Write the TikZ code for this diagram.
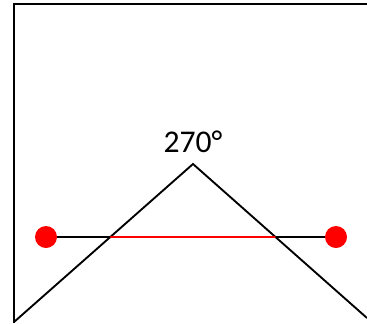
\documentclass[tikz,border=0pt]{standalone}
\usepackage{fontspec}
\setmainfont{Carlito}
\usetikzlibrary{positioning,intersections}

\begin{document}
\begin{tikzpicture}[
  x=0.03cm,y=-0.03cm,
  wall/.style={line width=1.8pt},
  roof/.style={line width=1.6pt},
  chord/.style={line width=1.3pt},
  dot/.style={circle,fill=red,inner sep=0pt,minimum size=0.66cm}
]
\useasboundingbox (0,0) rectangle (367,323);

% frame
\draw[wall] (367,4) -- (14,4) -- (14,323);

% roof
\coordinate (foot1) at (14,322);
\coordinate (apex) at (193,164);
\coordinate (foot2) at (367,318);
\draw[roof,name path=roofline] (foot1) -- (apex) -- (foot2);
\node[font=\fontsize{27}{32}\selectfont,above=6pt of apex] (angle) {270°};

% points and chord
\node[dot] (p1) at (46,237) {};
\node[dot] (p2) at (336,237) {};
\path[name path=chordline] (p1) -- (p2);
\path[name intersections={of=roofline and chordline}]
  (intersection-1) coordinate (x1) (intersection-2) coordinate (x2);
\draw[chord] (p1) -- (x1);
\draw[chord] (x2) -- (p2);
\draw[chord,red] (x1) -- (x2);
\end{tikzpicture}
\end{document}
